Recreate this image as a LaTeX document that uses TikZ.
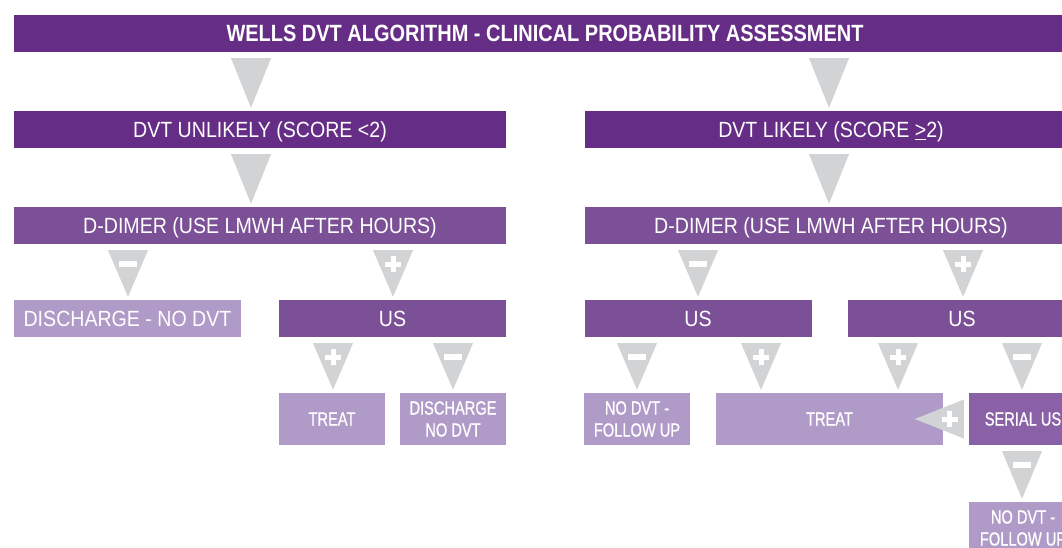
\documentclass[tikz,border=0pt]{standalone}
\usepackage{fontspec}
\setmainfont{Liberation Sans}
\newfontfamily\condfont[FakeStretch=0.89]{Liberation Sans}
\newfontfamily\smallcondfont[FakeStretch=0.77, FakeBold=0.8]{Liberation Sans}
\newfontfamily\titlefont[FakeStretch=0.85]{Liberation Sans}
\usetikzlibrary{calc}
\definecolor{darkpurple}{RGB}{101,45,134}
\definecolor{midpurple}{RGB}{123,80,150}
\definecolor{lightpurple}{RGB}{176,154,200}
\definecolor{serialpurple}{RGB}{138,96,166}
\definecolor{arrowgray}{RGB}{209,211,213}

% grey down-pointing triangle between two boxes at column x
\newcommand{\flowtri}[3]{%
  \path (#1.south -| #3,0) coordinate (ttop) (#2.north -| #3,0) coordinate (ttip);
  \fill[arrowgray] ($(ttop)+(-20,6)$) -- ($(ttop)+(20,6)$) -- ($(ttip)+(0,-3)$) -- cycle;
}

\begin{document}
\begin{tikzpicture}[x=1pt, y=-1pt,
    bar/.style={rectangle, fill=#1, text=white, inner sep=0pt, minimum height=37pt,
                text height=16pt, text depth=0pt, text centered,
                font=\condfont\fontsize{22}{25}\selectfont},
    smallbox/.style={rectangle, fill=#1, text=white, inner sep=0pt, minimum width=106pt,
                minimum height=52pt, align=center, font=\smallcondfont\fontsize{19}{22}\selectfont},
    minusmark/.style={fill=white, inner sep=0pt, minimum width=18pt, minimum height=6pt},
    plusmark/.style={inner sep=0pt, minimum size=16pt,
                path picture={\draw[white, line width=5pt]
                  (path picture bounding box.north) -- (path picture bounding box.south)
                  (path picture bounding box.west) -- (path picture bounding box.east);}}
]
\useasboundingbox (0,0) rectangle (1062,548);
\clip (0,0) rectangle (1062,548);

\node[bar=darkpurple, minimum width=1062pt, text height=17pt, text depth=0pt,
      font=\titlefont\bfseries\fontsize{23.5}{26}\selectfont] (title) at (545,33.5) {WELLS DVT ALGORITHM - CLINICAL PROBABILITY ASSESSMENT};

% Probability rows
\node[bar=darkpurple, minimum width=492pt] (unlikely) at (260,129.5) {DVT UNLIKELY (SCORE <2)};
\node[bar=darkpurple, minimum width=492pt] (likely) at (831,129.5) {DVT LIKELY (SCORE \underline{>}2)};
\node[bar=midpurple, minimum width=492pt] (ddimerL) at (260,225.5) {D-DIMER (USE LMWH AFTER HOURS)};
\node[bar=midpurple, minimum width=492pt] (ddimerR) at (831,225.5) {D-DIMER (USE LMWH AFTER HOURS)};

% Second level
\node[bar=lightpurple, minimum width=227pt] (dischL) at (127.5,318.5) {DISCHARGE - NO DVT};
\node[bar=midpurple, minimum width=227pt] (usL) at (392.5,318.5) {US};
\node[bar=midpurple, minimum width=227pt] (usA) at (698,318.5) {US};
\node[bar=midpurple, minimum width=228pt] (usB) at (962,318.5) {US};

% Outcomes
\node[smallbox=lightpurple] (treatL) at (332,419) {TREAT};
\node[smallbox=lightpurple] (dischNo) at (453,419) {DISCHARGE\\NO DVT};
\node[smallbox=lightpurple] (followA) at (637,419) {NO DVT -\\FOLLOW UP};
\node[smallbox=lightpurple, minimum width=227pt] (treatR) at (829.5,419) {TREAT};
\node[smallbox=serialpurple, minimum width=108pt] (serial) at (1023,419) {SERIAL US};
\node[smallbox=lightpurple, minimum width=108pt] (followB) at (1023,528) {NO DVT -\\FOLLOW UP};

% Arrows
\foreach \src/\dst/\xx in {title/unlikely/251, title/likely/829, unlikely/ddimerL/251, likely/ddimerR/829}
  \flowtri{\src}{\dst}{\xx};

\foreach \src/\dst/\xx/\mk in {ddimerL/dischL/128/minusmark, ddimerL/usL/393/plusmark,
    ddimerR/usA/698/minusmark, ddimerR/usB/963/plusmark,
    usL/treatL/333/plusmark, usL/dischNo/453/minusmark,
    usA/followA/637/minusmark, usA/treatR/761/plusmark,
    usB/treatR/898/plusmark, usB/serial/1022/minusmark, serial/followB/1022/minusmark}{
  \flowtri{\src}{\dst}{\xx}
  \node[\mk] (mk-\src-\dst) at ($(ttop)+(0,20)$) {};
}

% serial US positive back to treat
\fill[arrowgray] ($(serial.west)+(-5,-19.5)$) -- ($(serial.west)+(-5,19.5)$) -- ($(serial.west)+(-54,0)$) -- cycle;
\node[plusmark] (mk-serial-treatR) at ($(serial.west)+(-19,0)$) {};

\end{tikzpicture}
\end{document}
